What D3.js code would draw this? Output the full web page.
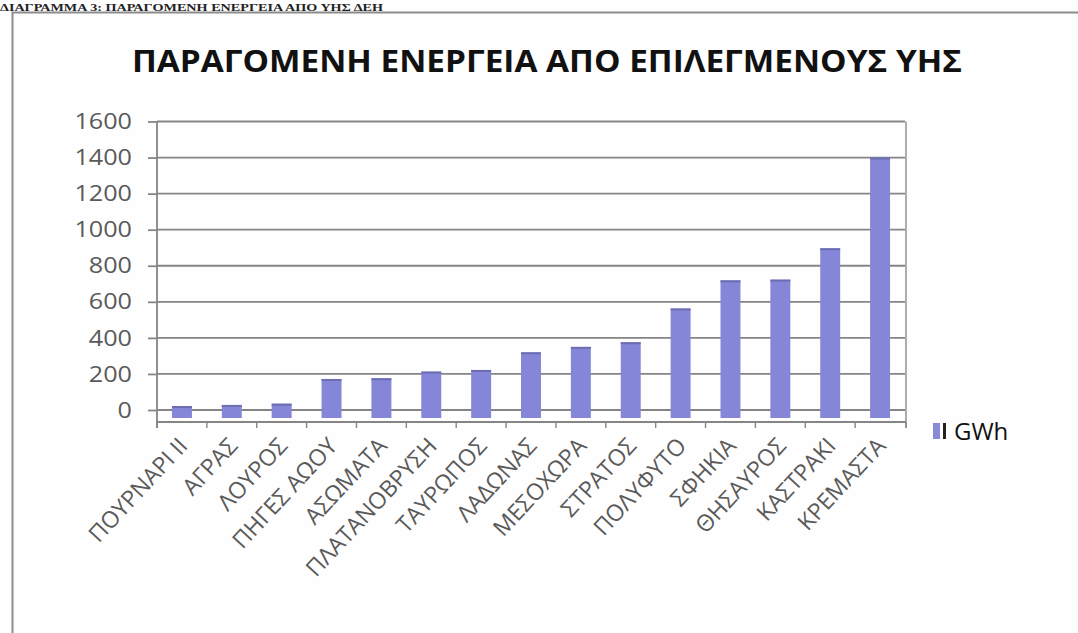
<!DOCTYPE html>
<html>
<head>
<meta charset="utf-8">
<script src="https://cdn.jsdelivr.net/npm/d3@7"></script>
<style>
  html, body { margin: 0; padding: 0; background: #fefefe; }
  svg { display: block; }
</style>
</head>
<body>
<svg id="chart" width="1078" height="633"></svg>
<script>
// Hydro plants (ΥΗΣ) and their produced energy in GWh
const stations = [
  "ΠΟΥΡΝΑΡΙ ΙΙ", "ΑΓΡΑΣ", "ΛΟΥΡΟΣ", "ΠΗΓΕΣ ΑΩΟΥ", "ΑΣΩΜΑΤΑ",
  "ΠΛΑΤΑΝΟΒΡΥΣΗ", "ΤΑΥΡΩΠΟΣ", "ΛΑΔΩΝΑΣ", "ΜΕΣΟΧΩΡΑ", "ΣΤΡΑΤΟΣ",
  "ΠΟΛΥΦΥΤΟ", "ΣΦΗΚΙΑ", "ΘΗΣΑΥΡΟΣ", "ΚΑΣΤΡΑΚΙ", "ΚΡΕΜΑΣΤΑ"
];
const energyGWh = [22, 28, 35, 172, 176, 213, 222, 320, 350, 376, 563, 719, 723, 897, 1400];
const yTicks = [0, 200, 400, 600, 800, 1000, 1200, 1400, 1600];
const seriesName = "GWh";
const chartTitle = "ΠΑΡΑΓΟΜΕΝΗ ΕΝΕΡΓΕΙΑ ΑΠΟ ΕΠΙΛΕΓΜΕΝΟΥΣ ΥΗΣ";
const pageHeading = "ΔΙΑΓΡΑΜΜΑ 3: ΠΑΡΑΓΟΜΕΝΗ ΕΝΕΡΓΕΙΑ ΑΠΟ ΥΗΣ ΔΕΗ";

const svg = d3.select("#chart");
const font = "'Open Sans', 'DejaVu Sans', sans-serif";

const plot = { left: 157, right: 905, top: 121.5, zero: 410 };
const floorDrop = 8;          // bars stand on the floor, slightly in front of the back wall
const axisY = plot.zero + 12; // category axis line

const x = d3.scaleBand().domain(stations).range([plot.left, plot.right]).padding(0);
const y = d3.scaleLinear().domain([0, 1600]).range([plot.zero, plot.top]);

// Heading of the page above the chart frame
svg.append("text")
  .attr("x", 0).attr("y", 10.5)
  .attr("font-family", "'Liberation Serif', serif")
  .attr("font-weight", "bold")
  .attr("font-size", 11)
  .attr("textLength", 383)
  .attr("lengthAdjust", "spacingAndGlyphs")
  .attr("fill", "#222")
  .text(pageHeading);

// Chart frame
svg.append("path")
  .attr("d", d3.line()([[12.5, 633], [12.5, 12.5], [1078, 12.5]]))
  .attr("fill", "none").attr("stroke", "#8c8c8c").attr("stroke-width", 2);

// Title
svg.append("text")
  .attr("x", 547).attr("y", 72)
  .attr("text-anchor", "middle")
  .attr("font-family", font)
  .attr("font-weight", "bold")
  .attr("font-size", 31)
  .attr("textLength", 830)
  .attr("lengthAdjust", "spacingAndGlyphs")
  .attr("fill", "#111")
  .text(chartTitle);

// Horizontal gridlines
svg.append("g").selectAll("line").data(yTicks).join("line")
  .attr("x1", plot.left).attr("x2", plot.right)
  .attr("y1", d => y(d)).attr("y2", d => y(d))
  .attr("stroke", "#858585").attr("stroke-width", 1.8);

// Value axis with outward ticks
const yAxis = svg.append("g").attr("transform", `translate(${plot.left},0)`)
  .call(d3.axisLeft(y).tickValues(yTicks).tickSize(9).tickPadding(16).tickFormat(d3.format("d")));
yAxis.select(".domain").remove();
yAxis.selectAll(".tick line").attr("stroke", "#858585").attr("stroke-width", 1.8);
yAxis.selectAll(".tick text")
  .attr("font-family", font).attr("font-size", 21).attr("fill", "#5a5a5a")
  .attr("dy", "0.34em")
  .attr("textLength", d => String(d).length * 14.4)
  .attr("lengthAdjust", "spacingAndGlyphs");
svg.append("line")
  .attr("x1", plot.left).attr("x2", plot.left)
  .attr("y1", y(1600)).attr("y2", axisY + 6)
  .attr("stroke", "#858585").attr("stroke-width", 1.8);

// Right edge of the back wall
svg.append("line")
  .attr("x1", plot.right + 1).attr("x2", plot.right + 1)
  .attr("y1", y(1600)).attr("y2", axisY + 6)
  .attr("stroke", "#8a8a8a").attr("stroke-width", 1.4);

// Bars
const barW = x.bandwidth() * 0.4;
const bars = svg.append("g");
bars.selectAll("rect.bar").data(stations).join("rect")
  .attr("class", "bar")
  .attr("x", d => x(d) + (x.bandwidth() - barW) / 2)
  .attr("width", barW)
  .attr("y", (d, i) => y(energyGWh[i]))
  .attr("height", (d, i) => y(0) + floorDrop - y(energyGWh[i]))
  .attr("fill", "#8586d8");
bars.selectAll("rect.cap").data(stations).join("rect")
  .attr("class", "cap")
  .attr("x", d => x(d) + (x.bandwidth() - barW) / 2)
  .attr("width", barW)
  .attr("y", (d, i) => y(energyGWh[i]))
  .attr("height", 2)
  .attr("fill", "#6d6eb2");

// Category axis
const xAxis = svg.append("g").attr("transform", `translate(0,${axisY})`);
xAxis.append("line")
  .attr("x1", plot.left).attr("x2", plot.right + 1)
  .attr("stroke", "#858585").attr("stroke-width", 2);
const boundaries = stations.map(d => x(d)).concat([plot.right + 1]);
xAxis.selectAll("line.tk").data(boundaries).join("line")
  .attr("class", "tk")
  .attr("x1", d => d).attr("x2", d => d)
  .attr("y1", 0).attr("y2", 6)
  .attr("stroke", "#858585").attr("stroke-width", 1.4);
xAxis.selectAll("text").data(stations).join("text")
  .attr("transform", d => `translate(${x(d) + x.bandwidth() / 2 + 7},${25}) rotate(-47)`)
  .attr("text-anchor", "end")
  .attr("font-family", font)
  .attr("font-size", 23)
  .attr("fill", "#5a5a5a")
  .text(d => d);

// Legend
const legend = svg.append("g").attr("transform", "translate(933,423)");
legend.append("rect").attr("width", 7).attr("height", 16).attr("fill", "#8a8bd8");
legend.append("rect").attr("x", 10).attr("width", 3).attr("height", 16).attr("fill", "#222");
legend.append("text")
  .attr("x", 21).attr("y", 16.5)
  .attr("font-family", font).attr("font-size", 24).attr("fill", "#111")
  .text(seriesName);
</script>
</body>
</html>
